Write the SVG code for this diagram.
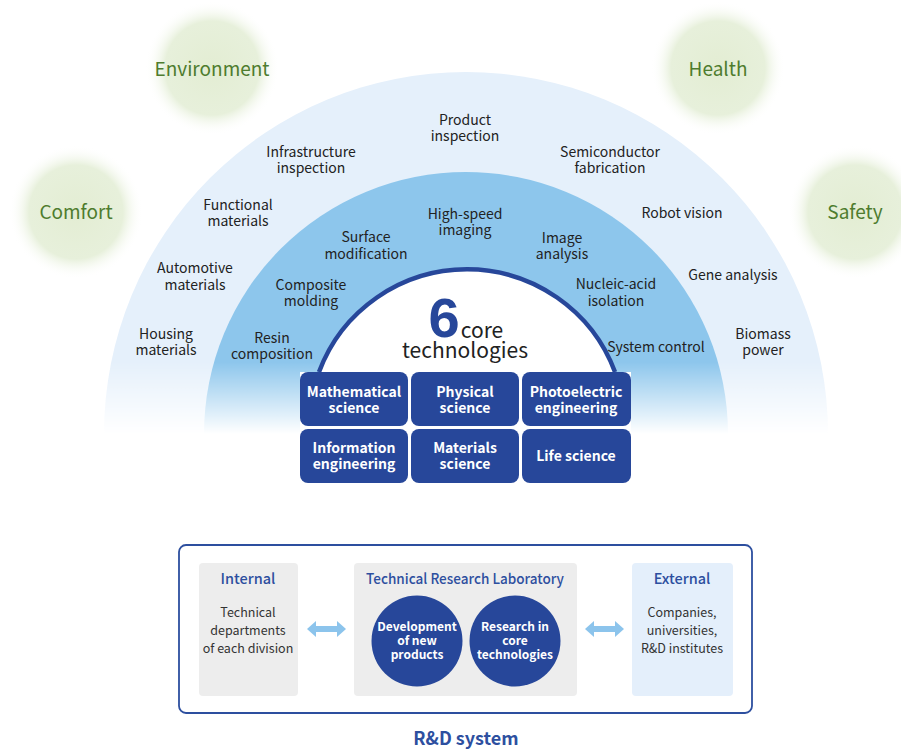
<svg xmlns="http://www.w3.org/2000/svg" width="901" height="751" viewBox="0 0 901 751">
  <defs>
    <style>
      text { font-family: "Noto Sans CJK JP", "Noto Sans", "Liberation Sans", sans-serif; text-anchor: middle; }
      .goal { font-size: 19px; fill: #4e7c2e; }
      .app { font-size: 14px; fill: #222; }
      .core { font-size: 14px; font-weight: 700; fill: #fff; }
      .techbox { fill: #27479a; }
      .head { font-size: 14.5px; font-weight: 500; fill: #2d4f9f; }
      .body { font-size: 12.5px; fill: #333; }
      .circ { font-size: 12px; font-weight: 700; fill: #fff; }
      .panel { fill: #ededed; }
    </style>
    <radialGradient id="blob" cx="0.5" cy="0.5" r="0.5">
      <stop offset="0" stop-color="#e3edd3"/>
      <stop offset="0.7" stop-color="#e7f0db"/>
      <stop offset="1" stop-color="#ffffff" stop-opacity="0"/>
    </radialGradient>
    <linearGradient id="fade" gradientUnits="userSpaceOnUse" x1="0" y1="362" x2="0" y2="434">
      <stop offset="0" stop-color="#fff"/>
      <stop offset="1" stop-color="#000"/>
    </linearGradient>
    <mask id="ringMask" maskUnits="userSpaceOnUse" x="0" y="0" width="901" height="751">
      <rect x="0" y="0" width="901" height="440" fill="url(#fade)"/>
    </mask>
    <path id="dblArrow" d="M0,0 L9,-8 L9,-3 L30,-3 L30,-8 L39,0 L30,8 L30,3 L9,3 L9,8 Z" fill="#8cc4ec"/>
  </defs>

  <rect width="901" height="751" fill="#fff"/>

  <!-- value goals -->
  <g id="goal-environment">
    <circle cx="212" cy="68" r="67" fill="url(#blob)"/>
    <text class="goal" x="212" y="76">Environment</text>
  </g>
  <g id="goal-comfort">
    <circle cx="76" cy="212" r="67" fill="url(#blob)"/>
    <text class="goal" x="76" y="219">Comfort</text>
  </g>
  <g id="goal-health">
    <circle cx="718" cy="68" r="67" fill="url(#blob)"/>
    <text class="goal" x="718" y="76">Health</text>
  </g>
  <g id="goal-safety">
    <circle cx="855" cy="212" r="67" fill="url(#blob)"/>
    <text class="goal" x="855" y="219">Safety</text>
  </g>

  <!-- concentric rings, fading toward the bottom -->
  <g id="rings" mask="url(#ringMask)">
    <path d="M104,434 A362,362 0 0 1 828,434 Z" fill="#e5f0fb"/>
    <path d="M204,434 A262,262 0 0 1 728,434 Z" fill="#8dc6ec"/>
  </g>

  <!-- core dome -->
  <g id="core-dome">
    <path d="M319,372 A158,158 0 0 1 615,372 Z" fill="#fff"/>
    <path d="M319,372 A158,158 0 0 1 615,372" fill="none" stroke="#27479a" stroke-width="4.5"/>
    <rect x="300" y="372" width="331" height="111" fill="#fff"/>
    <text style="font-size:21px;fill:#222;"><tspan x="444" y="337" style="font-family:'Liberation Sans','Noto Sans',sans-serif;font-size:56px;font-weight:700;fill:#27479a;">6</tspan><tspan x="482" y="338">core</tspan><tspan x="465" y="358">technologies</tspan></text>
  </g>

  <!-- outer ring: applications -->
  <g id="app-product"><text class="app"><tspan x="465" y="125">Product</tspan><tspan x="465" y="141">inspection</tspan></text></g>
  <g id="app-infrastructure"><text class="app"><tspan x="311" y="157">Infrastructure</tspan><tspan x="311" y="173">inspection</tspan></text></g>
  <g id="app-semiconductor"><text class="app"><tspan x="610" y="157">Semiconductor</tspan><tspan x="610" y="173">fabrication</tspan></text></g>
  <g id="app-functional"><text class="app"><tspan x="238" y="210">Functional</tspan><tspan x="238" y="226">materials</tspan></text></g>
  <g id="app-robot"><text class="app" x="682" y="218">Robot vision</text></g>
  <g id="app-automotive"><text class="app"><tspan x="195" y="273">Automotive</tspan><tspan x="195" y="290">materials</tspan></text></g>
  <g id="app-gene"><text class="app" x="733" y="280">Gene analysis</text></g>
  <g id="app-housing"><text class="app"><tspan x="166" y="339">Housing</tspan><tspan x="166" y="355">materials</tspan></text></g>
  <g id="app-biomass"><text class="app"><tspan x="763" y="339">Biomass</tspan><tspan x="763" y="355">power</tspan></text></g>

  <!-- middle ring: element technologies -->
  <g id="tech-highspeed"><text class="app"><tspan x="465" y="219">High-speed</tspan><tspan x="465" y="235">imaging</tspan></text></g>
  <g id="tech-surface"><text class="app"><tspan x="366" y="242">Surface</tspan><tspan x="366" y="259">modification</tspan></text></g>
  <g id="tech-image"><text class="app"><tspan x="562" y="243">Image</tspan><tspan x="562" y="259">analysis</tspan></text></g>
  <g id="tech-composite"><text class="app"><tspan x="311" y="290">Composite</tspan><tspan x="311" y="306">molding</tspan></text></g>
  <g id="tech-nucleic"><text class="app"><tspan x="616" y="289">Nucleic-acid</tspan><tspan x="616" y="306">isolation</tspan></text></g>
  <g id="tech-resin"><text class="app"><tspan x="272" y="343">Resin</tspan><tspan x="272" y="359">composition</tspan></text></g>
  <g id="tech-system"><text class="app" x="656" y="352">System control</text></g>

  <!-- six core technology boxes -->
  <g id="core-math">
    <rect class="techbox" x="300" y="372" width="108" height="54" rx="8"/>
    <text class="core"><tspan x="354" y="397">Mathematical</tspan><tspan x="354" y="413">science</tspan></text>
  </g>
  <g id="core-physical">
    <rect class="techbox" x="411" y="372" width="108" height="54" rx="8"/>
    <text class="core"><tspan x="465" y="397">Physical</tspan><tspan x="465" y="413">science</tspan></text>
  </g>
  <g id="core-photoelectric">
    <rect class="techbox" x="522" y="372" width="109" height="54" rx="8"/>
    <text class="core"><tspan x="576" y="397">Photoelectric</tspan><tspan x="576" y="413">engineering</tspan></text>
  </g>
  <g id="core-information">
    <rect class="techbox" x="300" y="429" width="108" height="54" rx="8"/>
    <text class="core"><tspan x="354" y="453">Information</tspan><tspan x="354" y="469">engineering</tspan></text>
  </g>
  <g id="core-materials">
    <rect class="techbox" x="411" y="429" width="108" height="54" rx="8"/>
    <text class="core"><tspan x="465" y="453">Materials</tspan><tspan x="465" y="469">science</tspan></text>
  </g>
  <g id="core-life">
    <rect class="techbox" x="522" y="429" width="109" height="54" rx="8"/>
    <text class="core" x="576" y="461">Life science</text>
  </g>

  <!-- R&D system -->
  <g id="rd-frame">
    <rect x="179" y="545" width="573" height="168" rx="7" fill="#fff" stroke="#2d4f9f" stroke-width="1.8"/>
  </g>
  <g id="rd-internal">
    <rect class="panel" x="199" y="563" width="99" height="133" rx="4"/>
    <text class="head" x="248" y="584">Internal</text>
    <text class="body"><tspan x="248" y="617">Technical</tspan><tspan x="248" y="635">departments</tspan><tspan x="248" y="653">of each division</tspan></text>
  </g>
  <g id="rd-lab">
    <rect class="panel" x="354" y="563" width="223" height="133" rx="4"/>
    <text class="head" x="465" y="584" textLength="198" lengthAdjust="spacingAndGlyphs">Technical Research Laboratory</text>
  </g>
  <g id="rd-development">
    <circle cx="417" cy="641" r="45.5" fill="#27479a"/>
    <text class="circ"><tspan x="417" y="631">Development</tspan><tspan x="417" y="645">of new</tspan><tspan x="417" y="659">products</tspan></text>
  </g>
  <g id="rd-research">
    <circle cx="515" cy="641" r="45.5" fill="#27479a"/>
    <text class="circ"><tspan x="515" y="631">Research in</tspan><tspan x="515" y="645">core</tspan><tspan x="515" y="659">technologies</tspan></text>
  </g>
  <g id="rd-external">
    <rect x="632" y="563" width="101" height="133" rx="4" fill="#e4effb"/>
    <text class="head" x="682" y="584">External</text>
    <text class="body"><tspan x="682" y="617">Companies,</tspan><tspan x="682" y="635">universities,</tspan><tspan x="682" y="653">R&amp;D institutes</tspan></text>
  </g>
  <g id="connectors">
    <use href="#dblArrow" transform="translate(307,629)"/>
    <use href="#dblArrow" transform="translate(585,629)"/>
  </g>
  <text x="466" y="745" style="font-size:18px;font-weight:700;fill:#2d4f9f;">R&amp;D system</text>
</svg>
